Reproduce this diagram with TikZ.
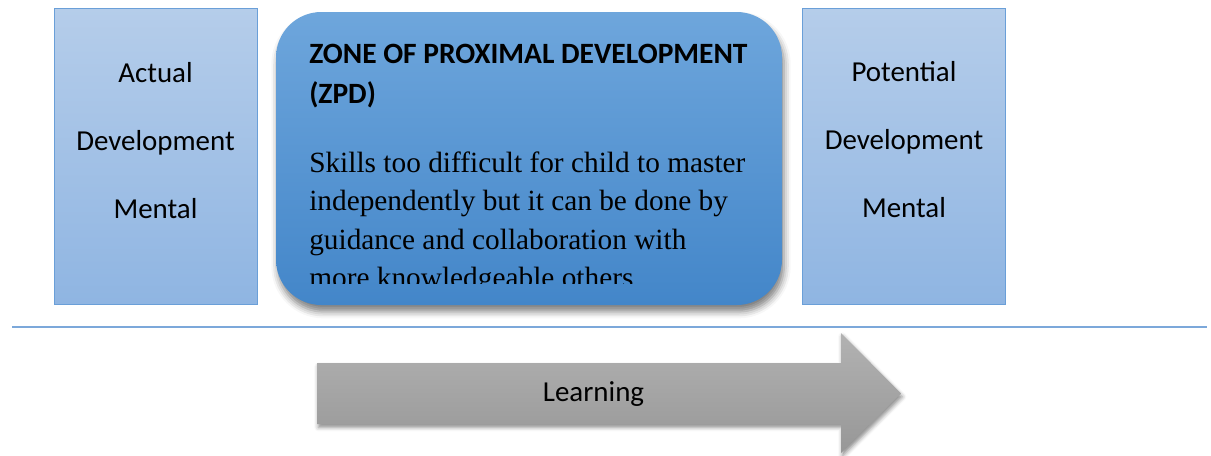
\documentclass[tikz,border=0pt]{standalone}
\usepackage{fontspec}
\setmainfont{Liberation Serif}
\newfontfamily\carlito{Carlito}
\usetikzlibrary{shadows.blur}

\definecolor{edgeblue}{HTML}{6A9FD8}
\definecolor{sidetop}{HTML}{B5CDEA}
\definecolor{sidebot}{HTML}{8FB5E2}
\definecolor{zpdtop}{HTML}{6EA6DC}
\definecolor{zpdbot}{HTML}{4386C9}
\definecolor{arrtop}{HTML}{B2B2B2}
\definecolor{arrbot}{HTML}{979797}
\definecolor{ruleblue}{HTML}{7CA8DA}

\begin{document}
\begin{tikzpicture}[
            x=0.75pt, y=-0.75pt,
            side/.style={draw=edgeblue, line width=0.6pt, top color=sidetop, bottom color=sidebot,
                minimum width=152.25pt, minimum height=222pt, inner sep=0pt},
            zpd/.style={rounded corners=34pt, top color=zpdtop, bottom color=zpdbot,
                minimum width=379.5pt, minimum height=219.75pt, inner sep=0pt,
                blur shadow={shadow xshift=1.5pt, shadow yshift=-5pt, shadow blur radius=5pt, shadow opacity=50}},
            lbl/.style={font=\carlito\fontsize{21.7pt}{26pt}\selectfont, anchor=base, inner sep=0pt},
            head/.style={font=\carlito\bfseries\fontsize{22.1pt}{26pt}\selectfont, anchor=base west, inner sep=0pt},
            body/.style={font=\fontsize{22pt}{29pt}\selectfont, anchor=base west, inner sep=0pt}
        ]
        \useasboundingbox (0,0) rectangle (1211,455);

        % the three boxes
        \node[side] (actual) at (155.5,156) {};
        \node[zpd] (zone) at (529,158.5) {};
        \node[side] (potential) at (904,156) {};

        % left box
        \node[lbl] (a1) at (155.5,82) {Actual};
        \node[lbl] (a2) at (155.5,150) {Development};
        \node[lbl] (a3) at (155.5,218) {Mental};

        % right box
        \node[lbl] (p1) at (904,81) {Potential};
        \node[lbl] (p2) at (904,149) {Development};
        \node[lbl] (p3) at (904,217) {Mental};

        % middle box, last line cut off
        \node[head] (t1) at (309,63) {ZONE OF PROXIMAL DEVELOPMENT};
        \node[head] (t2) at (309,103) {(ZPD)};
        \begin{scope}
            \clip (276,12) rectangle (782,283);
            \node[body] (b1) at (309,172) {Skills too difficult for child to master};
            \node[body] (b2) at (309,210.5) {independently but it can be done by};
            \node[body] (b3) at (309,249) {guidance and collaboration with};
            \node[body] (b4) at (309,287.5) {more knowledgeable others};
        \end{scope}

        % rule
        \coordinate (rl) at (12,327);
        \coordinate (rr) at (1207,327);
        \draw[ruleblue, line width=0.8pt] (rl) -- (rr);

        % learning arrow
        \path[top color=arrtop, bottom color=arrbot,
              blur shadow={shadow xshift=1pt, shadow yshift=-2.5pt, shadow blur radius=3pt, shadow opacity=45}]
            (317,363) -- (841,363) -- (841,333) -- (901,393.5) -- (841,453) -- (841,424) -- (317,424) -- cycle;
        \node[lbl] (learn) at (593.5,401) {Learning};
    \end{tikzpicture}
\end{document}
